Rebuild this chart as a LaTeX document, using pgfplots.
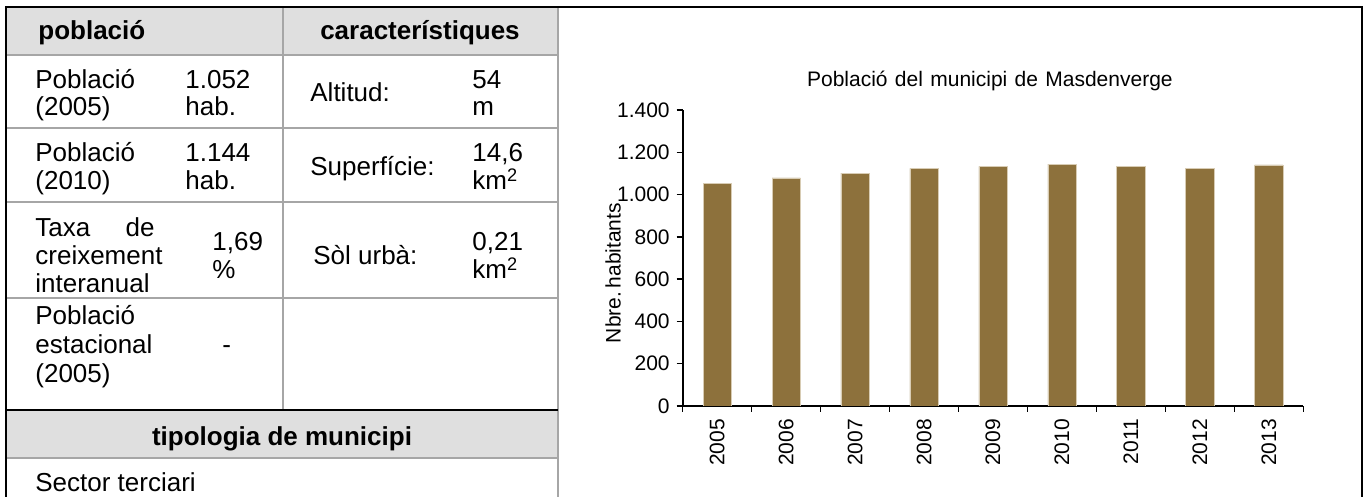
\documentclass[border=0pt]{standalone}
\usepackage{fontspec}
\setmainfont{Liberation Sans}
\usepackage{pgfplots}
\pgfplotsset{compat=1.18}
\definecolor{barc}{HTML}{8D713C}
\definecolor{bare}{HTML}{D8CCB4}
\definecolor{hdr}{HTML}{DFDFDF}
\definecolor{grl}{HTML}{A6A6A6}
\def\ws{\hspace{0.35em}}
\begin{document}
\begin{tikzpicture}[x=0.5pt,y=-0.5pt,
  tt/.style={anchor=base west, inner sep=0pt, font=\fontsize{13}{15}\selectfont},
  tb/.style={anchor=base, inner sep=0pt, font=\fontsize{13}{15}\selectfont\bfseries}]
\clip (0,0) rectangle (1367,497);
\fill[white] (0,0) rectangle (1367,497);
\fill[hdr] (6,7) rectangle (558,55);
\fill[hdr] (6,410) rectangle (558,458);
\draw[grl, line width=1pt] (6,55) -- (558,55) (6,128) -- (558,128) (6,202)--(558,202)
  (6,298)--(558,298) (6,458)--(558,458) (283,7)--(283,410) (558,7)--(558,500);
\draw[black, line width=1pt] (6,410)--(558,410);
\draw[black, line width=1.25pt] (6,500) -- (6,7) -- (1362,7) -- (1362,500);
% header
\node[tt, font=\fontsize{13}{15}\selectfont\bfseries] at (38,40) {població};
\node[tb] at (420,40) {característiques};
% row 1
\node[tt] at (35,89) {Població};
\node[tt] at (35,116) {(2005)};
\node[tt] at (185,89) {1.052};
\node[tt] at (185,116) {hab.};
\node[tt] at (310,102) {Altitud:};
\node[tt] at (472,89) {54};
\node[tt] at (472,116) {m};
% row 2
\node[tt] at (35,162) {Població};
\node[tt] at (35,190) {(2010)};
\node[tt] at (185,162) {1.144};
\node[tt] at (185,190) {hab.};
\node[tt] at (310,176) {Superfície:};
\node[tt] at (472,162) {14,6};
\node[tt] at (472,190) {km\textsuperscript{2}};
% row 3
\node[tt] at (35,237) {Taxa};
\node[tt, anchor=base east] at (155,237) {de};
\node[tt] at (35,265) {creixement};
\node[tt] at (35,293) {interanual};
\node[tt] at (212,251) {1,69};
\node[tt] at (212,279) {\%};
\node[tt] at (313,265) {Sòl urbà:};
\node[tt] at (472,251) {0,21};
\node[tt] at (472,279) {km\textsuperscript{2}};
% row 4
\node[tt] at (35,325) {Població};
\node[tt] at (35,354) {estacional};
\node[tt] at (35,383) {(2005)};
\node[tt] at (222,354) {-};
% tipologia
\node[tb] at (282,446) {tipologia de municipi};
\node[tt] at (35,492) {Sector terciari};
\begin{axis}[
  scale only axis, width=310.3pt, height=148pt,
  at={(341.35pt,-203pt)}, anchor=south west,
  xmin=-0.5, xmax=8.5, ymin=0, ymax=1400,
  axis x line*=bottom, axis y line*=left,
  axis line style={line width=1pt, -},
  xtick={-0.5,0.5,...,8.5}, x tick label as interval,
  xticklabels={2005,2006,2007,2008,2009,2010,2011,2012,2013},
  ytick={0,200,...,1400},
  tick align=outside, major tick length=3pt,
  tick style={black, line width=0.75pt},
  /pgf/number format/1000 sep={.},
  /pgf/number format/assume math mode=true,
  ticklabel style={font=\fontsize{10.5}{12}\selectfont},
  xticklabel style={rotate=90, anchor=east},
  ylabel={Nbre.\,habitants},
  ylabel style={at={(axis description cs:-0.1123,0.449)}, anchor=center, font=\fontsize{10.5}{12}\selectfont},
  title={Població\ws del\ws municipi\ws de\ws Masdenverge},
  title style={at={(axis description cs:0.495,1.058)}, anchor=center, yshift=0pt, font=\fontsize{10.5}{12}\selectfont},
  ybar, bar width=0.41,
]
\addplot[fill=barc, draw=bare, line width=0.3pt] coordinates {
 (0,1052) (1,1079) (2,1101) (3,1124) (4,1133) (5,1144) (6,1132) (7,1125) (8,1140)};
\end{axis}
\end{tikzpicture}
\end{document}
